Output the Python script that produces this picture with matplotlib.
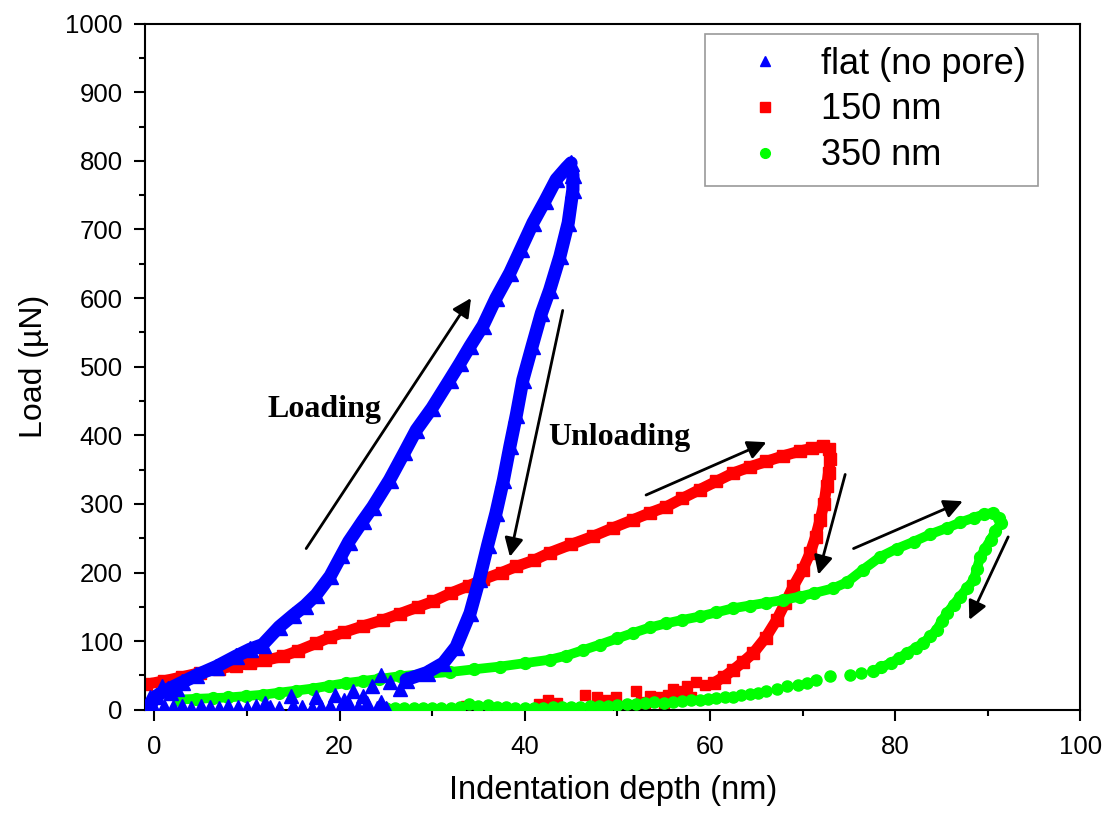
import matplotlib
matplotlib.use("Agg")
import matplotlib.pyplot as plt
from matplotlib.lines import Line2D

plt.rcParams['font.family'] = ['Liberation Sans', 'DejaVu Sans']

# flat film (no pore): loading branch, unloading branch, scatter near zero load
flat_load_x = [-0.5, 0.2, 1.5, 3.0, 4.5, 6.7, 8.8, 10.3, 11.7, 13.5, 15.0, 16.3, 17.5, 19.0, 20.2,
               21.0, 22.5, 23.6, 25.4, 27.0, 28.3, 30.0, 31.9, 33.0, 34.1, 35.5, 36.9, 38.4, 39.6,
               40.9, 42.2, 43.4, 44.5, 45.0]
flat_load_y = [5, 20, 30, 40, 50, 63, 78, 88, 95, 121, 138, 152, 168, 195, 225,
               245, 275, 296, 335, 375, 408, 440, 481, 505, 530, 560, 600, 637, 672,
               710, 742, 773, 790, 797]
flat_unload_x = [45.2, 45.2, 44.7, 43.8, 42.7, 41.8, 40.8, 39.8, 39.1, 38.4, 37.7, 36.9, 36.0,
                 35.1, 34.1, 32.6, 31.2, 29.4, 27.2]
flat_unload_y = [780, 758, 710, 661, 612, 578, 530, 481, 430, 384, 335, 287, 240,
                 190, 141, 92, 68, 54, 44]
flat_tail_x = [25.5, 26.5, 24.5, 23.5, 22.5, 21.5, 20.5, 19.5, 21.0, 23.0, 24.5, 17.5, 14.8, 12.0,
               -0.5, 0.8, 1.8, 2.5, 0.0, 1.0, 2.0, 3.0, 4.0, 5.0, 6.0, 7.0, 8.0, 9.0, 10.0,
               11.0, 12.5, 13.5, 15.0, 16.0, 17.0, 18.0, 19.0, 20.0, 22.0, 24.0, 25.0]
flat_tail_y = [40, 30, 50, 35, 20, 28, 15, 22, 8, 10, 12, 18, 20, 10,
               18, 34, 25, 30, 3, 5, 4, 6, 3, 5, 4, 3, 5, 4, 3,
               5, 4, 3, 5, 4, 3, 4, 5, 3, 4, 3, 2]

# 150 nm pores
p150_load_x = [-0.9, 1.0, 3.0, 4.9, 7.0, 8.8, 10.3, 12.0, 13.9, 15.5, 17.5, 19.0, 20.5, 22.5,
               24.7, 26.5, 28.5, 30.1, 32.0, 34.0, 35.5, 37.5, 39.1, 41.0, 42.7, 45.0, 47.4,
               49.5, 51.7, 53.5, 55.3, 57.0, 58.9, 60.7, 62.5, 64.3, 66.1, 67.9, 69.7, 71.0, 72.2]
p150_load_y = [37, 42, 48, 54, 60, 64, 68, 72, 78, 86, 97, 106, 113, 122,
               131, 140, 150, 158, 170, 181, 190, 200, 209, 218, 229, 241, 253,
               265, 277, 287, 296, 308, 321, 333, 345, 354, 362, 370, 377, 381, 384]
p150_unload_x = [72.8, 73.0, 72.8, 72.6, 72.3, 71.9, 71.4, 70.8, 70.0, 69.0, 68.1, 67.2, 66.0,
                 64.7, 63.6, 62.5, 61.5, 60.4]
p150_unload_y = [380, 365, 345, 326, 300, 277, 252, 228, 204, 180, 155, 131, 105,
                 83, 70, 58, 48, 39]
p150_tail_x = [59.5, 58.5, 57.5, 56.4, 55.5, 54.5, 53.5, 55.0, 52.5, 52.0, 49.9, 48.9, 47.8,
               46.5, 43.5, 41.5, 42.5, 33.7, 51.0, 57.0, 58.0, 56.0, 53.0]
p150_tail_y = [36, 40, 34, 20, 22, 18, 20, 6, 12, 27, 19, 15, 19,
               22, 10, 8, 14, 5, 5, 28, 18, 30, 10]

# 350 nm pores
p350_load_x = [2.7, 4.5, 6.3, 8.0, 9.9, 11.7, 13.5, 15.3, 17.1, 18.9, 20.7, 22.5, 24.3, 26.5,
               29.0, 31.9, 34.5, 37.3, 40.0, 42.7, 44.5, 46.3, 48.1, 50.0, 51.7, 53.5, 55.3,
               57.0, 58.9, 60.7, 62.5, 64.3, 66.1, 67.9, 69.7, 71.2, 73.3, 74.8, 76.5, 78.4,
               80.2, 82.0, 83.8, 85.6, 87.0, 88.5, 89.6, 90.6]
p350_load_y = [15, 16, 17, 18, 20, 22, 25, 28, 31, 35, 39, 42, 45, 49,
               52, 55, 59, 63, 68, 73, 79, 87, 95, 104, 112, 120, 126,
               131, 136, 142, 148, 152, 156, 160, 165, 170, 177, 186, 204, 223,
               235, 245, 256, 265, 273, 280, 285, 287]
p350_unload_x = [91.2, 91.4, 90.8, 90.3, 89.7, 89.2, 88.8, 88.5, 87.8, 87.0, 86.3, 85.6, 85.0,
                 84.5, 83.8, 83.0, 82.2, 81.3, 80.4, 79.5, 78.5, 77.6]
p350_unload_y = [280, 272, 260, 248, 235, 223, 205, 190, 178, 165, 153, 141, 129,
                 117, 107, 97, 90, 83, 75, 68, 62, 56]
p350_tail_x = [76.3, 75.1, 73.0, 71.5, 70.5, 69.5, 68.3, 67.2, 66.1, 65.2, 64.3, 63.4, 62.5,
               61.6, 60.7, 59.8, 58.9, 58.0, 57.0, 56.0, 55.0, 54.0, 53.0, 52.0, 51.0, 50.0,
               49.0, 48.0, 47.0, 46.0, 45.0, 44.0, 43.0, 42.0, 41.0, 40.0, 39.0, 38.0, 37.0,
               36.0, 35.0, 34.0, 33.0, 32.0, 31.0, 30.0, 29.0, 28.0, 27.0, 26.0, 25.0]
p350_tail_y = [53, 51, 49, 44, 39, 36, 34, 30, 27, 25, 23, 21, 19,
               18, 17, 16, 15, 14, 13, 11, 10, 11, 10, 9, 8, 7,
               6, 5, 5, 4, 4, 4, 4, 3, 3, 3, 3, 4, 4,
               7, 6, 8, 4, 3, 3, 3, 3, 3, 3, 3, 3]

labels = ['flat (no pore)', '150 nm', '350 nm']
colors = ['#0000ff', '#ff0000', '#00ff00']
markers = ['^', 's', 'o']

fig = plt.figure(figsize=(11.07, 8.14), dpi=100)
ax = fig.add_axes([0.131, 0.128, 0.845, 0.843])

# red first, then green, blue on top
for bx, by in [(p150_load_x, p150_load_y), (p150_unload_x, p150_unload_y)]:
    ax.plot(bx, by, color=colors[1], lw=8, marker='s', ms=8.5,
            solid_capstyle='butt', zorder=2)
ax.plot(p150_tail_x, p150_tail_y, ls='none', color=colors[1], marker='s', ms=7, zorder=2)

for bx, by in [(p350_load_x, p350_load_y), (p350_unload_x, p350_unload_y)]:
    ax.plot(bx, by, color=colors[2], lw=7, marker='o', ms=8.5,
            solid_capstyle='round', zorder=3)
ax.plot(p350_tail_x, p350_tail_y, ls='none', color=colors[2], marker='o', ms=8, zorder=3)

for bx, by in [(flat_load_x, flat_load_y), (flat_unload_x, flat_unload_y)]:
    ax.plot(bx, by, color=colors[0], lw=9.5, marker='^', ms=12,
            solid_capstyle='round', zorder=4)
ax.plot(flat_tail_x, flat_tail_y, ls='none', color=colors[0], marker='^', ms=10, zorder=4)

ax.set_xlim(-1, 100)
ax.set_ylim(0, 1000)
ax.set_xticks(range(0, 101, 20))
ax.set_xticks(range(10, 100, 20), minor=True)
ax.set_yticks(range(0, 1001, 100))
ax.set_yticks(range(50, 1000, 100), minor=True)
ax.tick_params(which='major', length=8, width=1.5, labelsize=18.5, direction='out')
ax.tick_params(which='minor', length=4.3, width=1.5, direction='out')
ax.tick_params(axis='x', pad=10)
ax.tick_params(axis='y', pad=8)
for s in ax.spines.values():
    s.set_linewidth(1.5)

ax.set_xlabel('Indentation depth (nm)', fontsize=23.5, labelpad=12)
ax.set_ylabel('Load (µN)', fontsize=23, labelpad=12)

# direction arrows
arrows = [((16.4, 235), (34.2, 600)), ((44.1, 582), (38.4, 223)),
          ((53.1, 313), (66.1, 390)), ((74.6, 343), (71.7, 197)),
          ((75.5, 235), (87.3, 304)), ((92.2, 252), (88.0, 131))]
for tail, tip in arrows:
    ax.annotate('', xy=tip, xytext=tail,
                arrowprops=dict(arrowstyle='-|>', mutation_scale=28, lw=2, color='black',
                                shrinkA=0, shrinkB=0), zorder=5)

ax.text(12.2, 427, 'Loading', family=['Liberation Serif', 'DejaVu Serif'], fontweight='bold',
        fontsize=23, ha='left', va='baseline')
ax.text(42.5, 386, 'Unloading', family=['Liberation Serif', 'DejaVu Serif'], fontweight='bold',
        fontsize=23, ha='left', va='baseline')

handles = [Line2D([], [], ls='none', marker=m, color=c, ms=7) for m, c in zip(markers, colors)]
leg = ax.legend(handles, labels, loc='upper right', bbox_to_anchor=(0.955, 0.985),
                borderaxespad=0, fontsize=26, frameon=True, fancybox=False,
                handlelength=2.6, handletextpad=0.25, labelspacing=0.3, borderpad=0.35)
leg.get_frame().set_edgecolor('#808080')
leg.get_frame().set_linewidth(1.2)

fig.savefig('out.png', dpi=100)
